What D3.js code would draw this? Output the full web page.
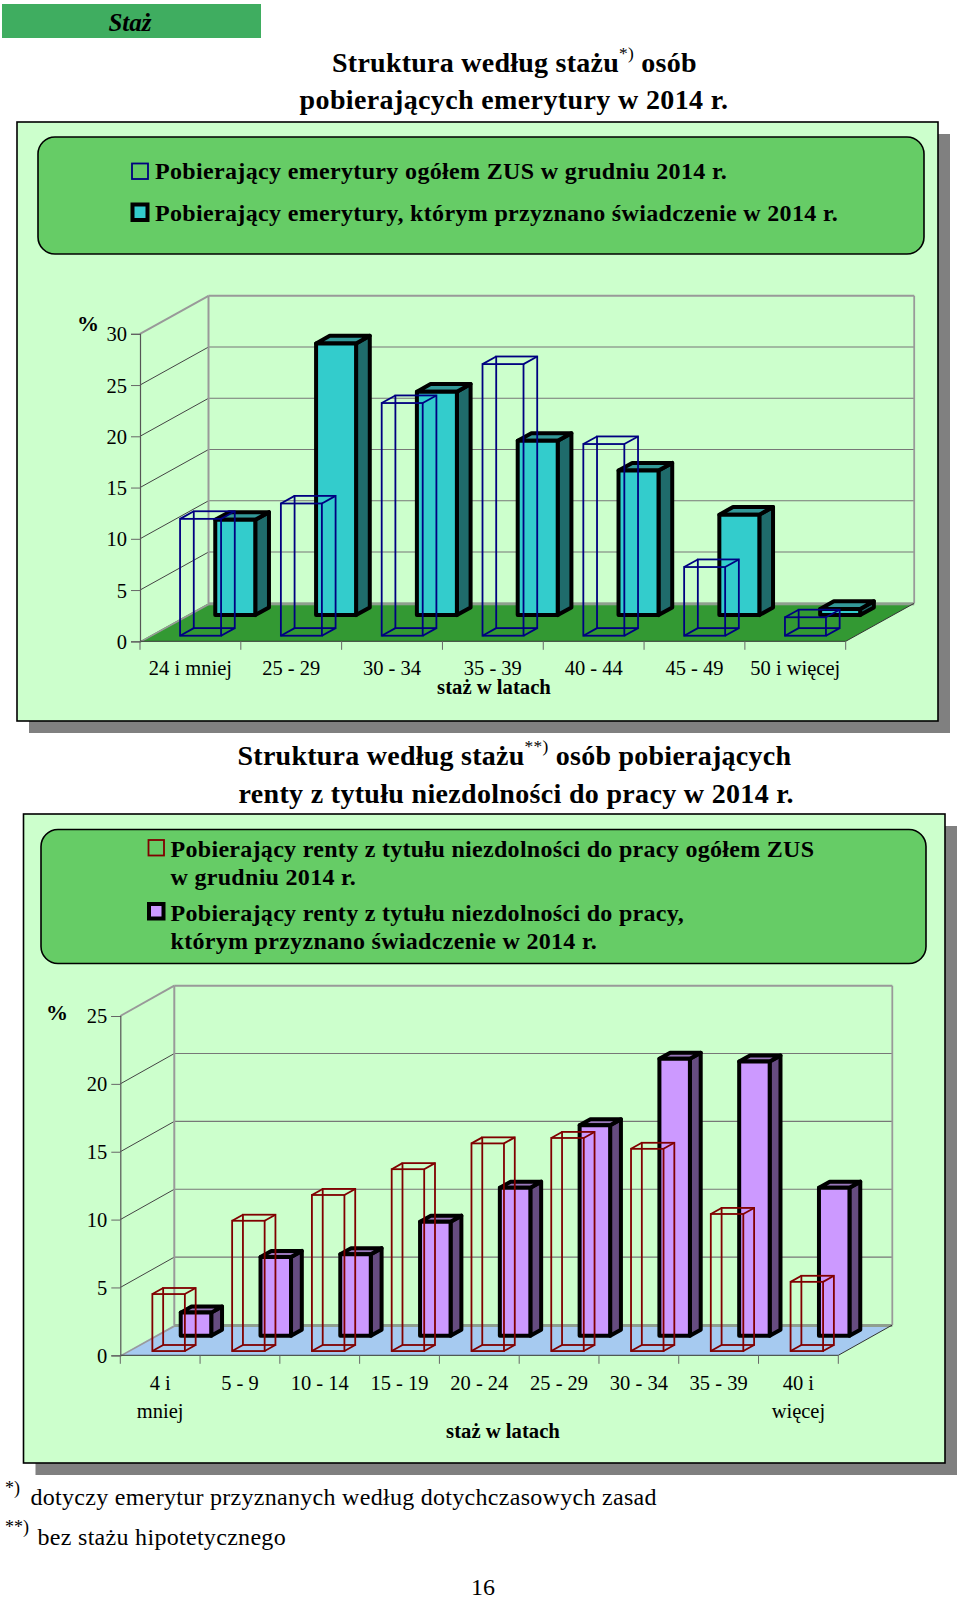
<!DOCTYPE html>
<html><head><meta charset="utf-8">
<script src="https://cdn.jsdelivr.net/npm/d3@7"></script>
<style>
html,body{margin:0;padding:0;background:#fff}
svg{display:block}
text{font-family:"Liberation Serif",serif;fill:#000}
</style></head><body>
<svg id="c" width="960" height="1600"></svg>
<script>
// --- data ---
const categoriesA = ["24 i mniej","25 - 29","30 - 34","35 - 39","40 - 44","45 - 49","50 i więcej"];
const ogolemA     = [11.4,12.9,22.7,26.5,18.7,6.7,1.8];
const przyznaneA  = [9.3,26.5,21.8,17.0,14.1,9.8,0.6];
const ticksA      = [0,5,10,15,20,25,30];
const categoriesB = [["4 i","mniej"],["5 - 9"],["10 - 14"],["15 - 19"],["20 - 24"],["25 - 29"],["30 - 34"],["35 - 39"],["40 i","więcej"]];
const ogolemB     = [4.2,9.6,11.5,13.4,15.3,15.7,14.9,10.1,5.1];
const przyznaneB  = [1.7,5.8,6.0,8.4,10.9,15.5,20.4,20.2,10.9];
const ticksB      = [0,5,10,15,20,25];

const svg = d3.select("#c");
const serif = '"Liberation Serif",serif';

function txt(x,y,s,size,opt={}){
  return svg.append("text").attr("x",x).attr("y",y).text(s)
    .style("font-size",size+"px")
    .style("font-weight",opt.bold?"bold":"normal")
    .style("font-style",opt.italic?"italic":"normal")
    .style("letter-spacing",(opt.ls||0)+"px")
    .attr("text-anchor",opt.anchor||"start");
}
function richTitle(x,y,parts,size,ls){
  const t = svg.append("text").attr("x",x).attr("y",y)
    .style("font-size",size+"px").style("font-weight","bold").style("letter-spacing",ls+"px");
  parts.forEach(p=>{
    if(p.sup){ t.append("tspan").attr("dy",-13).style("font-size",(size*0.62)+"px").style("font-weight","normal").text(p.sup); }
    else { t.append("tspan").attr("dy",p.back?13:0).text(p.t); }
  });
  return t;
}
function panel(x0,y0,x1,y1){
  svg.append("rect").attr("x",x0+12).attr("y",y0+12).attr("width",x1-x0).attr("height",y1-y0).attr("fill","#808080");
  svg.append("rect").attr("x",x0).attr("y",y0).attr("width",x1-x0).attr("height",y1-y0).attr("fill","#CCFFCC").attr("stroke","#000").attr("stroke-width",1.6);
}
function legendBox(x0,y0,x1,y1){
  svg.append("rect").attr("x",x0).attr("y",y0).attr("width",x1-x0).attr("height",y1-y0).attr("rx",17).attr("fill","#66CC66").attr("stroke","#000").attr("stroke-width",1.6);
}
const pts = a => a.map(p=>p.join(",")).join(" ");

function chart3d(o){
  const x = d3.scaleBand().domain(d3.range(o.cats.length)).range([o.left,o.right]);
  const y = d3.scaleLinear().domain([0,o.max]).range([o.base,o.top]);
  const g = svg.append("g");
  const dx=o.dx, dy=o.dy;
  const R=o.right, L=o.left, B=o.base, T=o.top;
  // floor
  g.append("polygon").attr("points",pts([[L,B],[L+dx,B-dy],[R+dx,B-dy],[R,B]])).attr("fill",o.floor);
  g.append("polygon").attr("points",pts([[L,B],[L+dx,B-dy],[L+dx+4,B-dy],[L+3,B]])).attr("fill","#9a9a9a");
  g.append("rect").attr("x",L+dx).attr("y",B-dy-1).attr("width",R-L).attr("height",3).attr("fill","#8f9f8f");
  g.append("line").attr("x1",L).attr("y1",B).attr("x2",R).attr("y2",B).attr("stroke","#333").attr("stroke-width",1);
  g.append("line").attr("x1",R).attr("y1",B).attr("x2",R+dx).attr("y2",B-dy).attr("stroke","#333").attr("stroke-width",1);
  // grid
  o.ticks.forEach(t=>{
    if(t===0) return;
    const yy=y(t);
    g.append("line").attr("x1",L).attr("y1",yy).attr("x2",L+dx).attr("y2",yy-dy).attr("stroke",t===o.max?"#999":"#444").attr("stroke-width",t===o.max?2:1);
    g.append("line").attr("x1",L+dx).attr("y1",yy-dy).attr("x2",R+dx).attr("y2",yy-dy).attr("stroke",t===o.max?"#999":"#777").attr("stroke-width",t===o.max?2:1.1);
  });
  g.append("line").attr("x1",L+dx).attr("y1",T-dy).attr("x2",L+dx).attr("y2",B-dy).attr("stroke","#999").attr("stroke-width",2);
  g.append("line").attr("x1",R+dx).attr("y1",T-dy).attr("x2",R+dx).attr("y2",B-dy).attr("stroke","#999").attr("stroke-width",1.8);
  // axes
  const ay = g.append("g").attr("transform",`translate(${L},0)`).call(d3.axisLeft(y).tickValues(o.ticks).tickSize(9).tickPadding(4).tickFormat(d3.format("d")));
  ay.selectAll("path").attr("stroke","#555").attr("stroke-width",1.2);
  ay.selectAll("line").attr("stroke","#666").attr("stroke-width",1);
  ay.selectAll("text").style("font-family",serif).style("font-size",o.tickSize+"px").attr("fill","#000").attr("dy","0.34em");
  const edges = d3.range(o.cats.length+1).map(i=>L+i*x.bandwidth());
  g.selectAll("line.xt").data(edges).join("line").attr("class","xt")
    .attr("x1",d=>d).attr("x2",d=>d).attr("y1",B).attr("y2",B+8.5).attr("stroke","#666").attr("stroke-width",1);
  o.cats.forEach((c,i)=>{
    const lines = Array.isArray(c)?c:[c];
    lines.forEach((s,j)=>{
      g.append("text").attr("x",x(i)+x.bandwidth()/2).attr("y",o.labelY+j*o.labelLH)
        .attr("text-anchor","middle").style("font-size",o.tickSize+"px").text(s);
    });
  });
  // filled bars, drawn back to front
  const tf=o.tFilled, th=o.tHollow, td=o.tDepth, ddx=td*dx, ddy=td*dy;
  o.filled.forEach((v,i)=>{
    const sw=o.barF, fx=x(i)+o.padF+tf*dx, bb=y(0)-tf*dy, tt=y(v)-tf*dy;
    const b=g.append("g").attr("stroke","#000").attr("stroke-width",o.heavy).attr("stroke-linejoin","round");
    b.append("polygon").attr("points",pts([[fx+sw,tt],[fx+sw+ddx,tt-ddy],[fx+sw+ddx,bb-ddy],[fx+sw,bb]])).attr("fill",o.side);
    b.append("polygon").attr("points",pts([[fx,tt],[fx+ddx,tt-ddy],[fx+sw+ddx,tt-ddy],[fx+sw,tt]])).attr("fill",o.capc);
    b.append("rect").attr("x",fx).attr("y",tt).attr("width",sw).attr("height",bb-tt).attr("fill",o.face);
  });
  // hollow wireframes on top
  o.hollow.forEach((v,i)=>{
    const sw=o.barH, fx=x(i)+o.padH+th*dx, bb=y(0)-th*dy, tt=y(v)-th*dy;
    const b=g.append("g").attr("fill","none").attr("stroke",o.wire).attr("stroke-width",1.8);
    b.append("rect").attr("x",fx+ddx).attr("y",tt-ddy).attr("width",sw).attr("height",bb-tt);
    b.append("rect").attr("x",fx).attr("y",tt).attr("width",sw).attr("height",bb-tt);
    [[0,tt],[sw,tt],[0,bb],[sw,bb]].forEach(([a,yy])=>{
      b.append("line").attr("x1",fx+a).attr("y1",yy).attr("x2",fx+a+ddx).attr("y2",yy-ddy);
    });
  });
}

// --- header ---
svg.append("rect").attr("x",2).attr("y",4).attr("width",259).attr("height",34).attr("fill","#3FAD60");
txt(130,31,"Staż",25,{bold:true,italic:true,anchor:"middle"});
richTitle(332,71.5,[{t:"Struktura według stażu"},{sup:"*)"},{t:" osób",back:true}],28,0.25);
txt(514,109,"pobierających emerytury w 2014 r.",28,{bold:true,anchor:"middle",ls:0.37});

// --- first chart ---
panel(17,122,938,721);
legendBox(38,137,924,254);
svg.append("rect").attr("x",132).attr("y",163.5).attr("width",16).attr("height",15.5).attr("fill","none").attr("stroke","#000080").attr("stroke-width",1.8);
svg.append("rect").attr("x",132.5).attr("y",204.5).attr("width",15).attr("height",15.5).attr("fill","#33CCCC").attr("stroke","#000").attr("stroke-width",4);
txt(155,179,"Pobierający emerytury ogółem ZUS w grudniu 2014 r.",24,{bold:true,ls:0.34});
txt(155,221,"Pobierający emerytury, którym przyznano świadczenie w 2014 r.",24,{bold:true,ls:0.34});
txt(88,331,"%",22,{bold:true,anchor:"middle"});
chart3d({cats:categoriesA,hollow:ogolemA,filled:przyznaneA,ticks:ticksA,max:30,
  left:140,right:845.7,base:641.3,top:333.8,dx:68.5,dy:38,
  padH:30,barH:41,padF:28,barF:40,tHollow:0.147,tFilled:0.69,tDepth:0.2,heavy:4,
  floor:"#339933",face:"#33CCCC",side:"#1F6B6B",capc:"#339999",wire:"#000080",
  tickSize:20.5,labelY:675,labelLH:0});
txt(494,694,"staż w latach",20.7,{bold:true,anchor:"middle"});

// --- second title ---
richTitle(237.5,765,[{t:"Struktura według stażu"},{sup:"**)"},{t:" osób pobierających",back:true}],28,0.25);
txt(238.5,803,"renty z tytułu niezdolności do pracy w 2014 r.",28,{bold:true,ls:0.32});

// --- second chart ---
panel(23.5,814,945,1463);
legendBox(41,829.5,926,963.5);
svg.append("rect").attr("x",148.5).attr("y",840).attr("width",15.5).attr("height",15.5).attr("fill","none").attr("stroke","#800000").attr("stroke-width",1.8);
svg.append("rect").attr("x",149).attr("y",904).attr("width",14.5).attr("height",14.5).attr("fill","#CC99FF").attr("stroke","#000").attr("stroke-width",4);
txt(170.5,856.5,"Pobierający renty z tytułu niezdolności do pracy ogółem ZUS",24,{bold:true,ls:0.3});
txt(170.5,885,"w grudniu 2014 r.",24,{bold:true,ls:0.3});
txt(170.5,920.5,"Pobierający renty z tytułu niezdolności do pracy,",24,{bold:true,ls:0.3});
txt(170.5,949,"którym przyznano świadczenie w 2014 r.",24,{bold:true,ls:0.3});
txt(57,1020,"%",22,{bold:true,anchor:"middle"});
chart3d({cats:categoriesB,hollow:ogolemB,filled:przyznaneB,ticks:ticksB,max:25,
  left:120.3,right:838.3,base:1355.3,top:1016,dx:54,dy:30.3,
  padH:24.5,barH:32.5,padF:25.5,barF:30.5,tHollow:0.14,tFilled:0.647,tDepth:0.2,heavy:4,
  floor:"#A6CAF0",face:"#CC99FF",side:"#664C80",capc:"#9977BB",wire:"#800000",
  tickSize:20.5,labelY:1390,labelLH:27.7});
txt(503,1437.5,"staż w latach",20.7,{bold:true,anchor:"middle"});

// --- footnotes ---
txt(5,1494,"*)",18);
txt(30.5,1505,"dotyczy emerytur przyznanych według dotychczasowych zasad",24,{ls:0.29});
txt(5,1533,"**)",18);
txt(37.5,1544.5,"bez stażu hipotetycznego",24,{ls:0.3});
txt(483,1594.5,"16",24,{anchor:"middle"});
</script>
</body></html>
